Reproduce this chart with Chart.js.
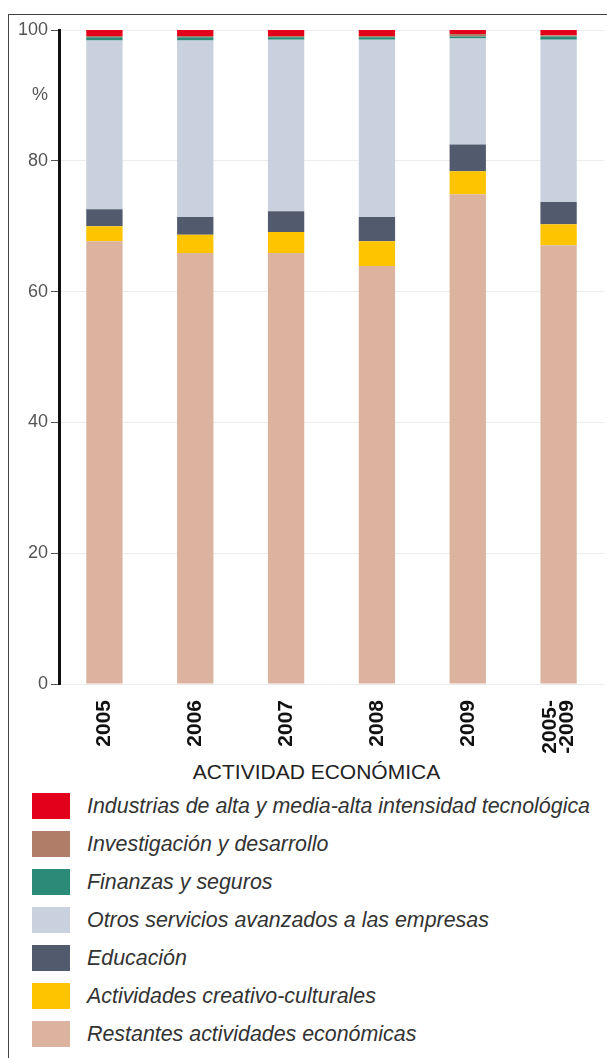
<!DOCTYPE html>
<html><head><meta charset="utf-8">
<script src="https://cdn.jsdelivr.net/npm/chart.js@4.4.1/dist/chart.umd.min.js"></script>
<style>
html,body{margin:0;padding:0;background:#fff;width:607px;height:1058px;overflow:hidden;font-family:"Liberation Sans",Arial,sans-serif;}
#frame{position:absolute;left:8px;top:14px;width:700px;height:1100px;border-left:1px solid #444;border-top:1px solid #444;}
#wrap{position:absolute;left:0;top:0;width:607px;height:760px;}
#xtitle{position:absolute;left:0;width:633px;top:761px;text-align:center;font-size:21px;line-height:21px;color:#222;}
#legend{position:absolute;left:32px;top:787px;}
.row{display:flex;align-items:center;height:38px;}
.box{width:38px;height:26px;margin-right:17px;flex:none;}
.lbl{font-style:italic;font-size:21.4px;line-height:21px;color:#333;white-space:nowrap;}
</style></head>
<body>
<div id="frame"></div>
<div id="wrap"><canvas id="c" width="607" height="760"></canvas></div>
<div id="xtitle">ACTIVIDAD ECONÓMICA</div>
<div id="legend"></div>
<script>
const categories = ['2005','2006','2007','2008','2009',['2005-','-2009']];
const restantes  = [67.7, 65.9, 65.9, 63.9, 74.9, 67.1];
const creativo   = [2.3, 2.8, 3.2, 3.8, 3.5, 3.2];
const educacion  = [2.6, 2.7, 3.2, 3.7, 4.1, 3.4];
const otros      = [25.8, 27.0, 26.2, 27.1, 16.2, 24.8];
const finanzas   = [0.5, 0.5, 0.4, 0.4, 0.3, 0.5];
const idi        = [0.2, 0.2, 0.2, 0.2, 0.4, 0.2];
const industrias = [0.9, 0.9, 0.9, 0.9, 0.6, 0.8];
const yTickStep = 20;
const yMin = 0, yMax = 100;

const seriesNames = [
  'Restantes actividades económicas',
  'Actividades creativo-culturales',
  'Educación',
  'Otros servicios avanzados a las empresas',
  'Finanzas y seguros',
  'Investigación y desarrollo',
  'Industrias de alta y media-alta intensidad tecnológica'
];
const seriesData = [restantes, creativo, educacion, otros, finanzas, idi, industrias];
const seriesColors = ['#dbb39f','#fec400','#525a6d','#c9d1df','#2b8a78','#b07d68','#e3001b'];

const pctPlugin = {
  id: 'pct',
  afterDraw(chart) {
    const y = chart.scales.y, ctx = chart.ctx;
    ctx.save();
    ctx.font = '18px "Liberation Sans", Arial, sans-serif';
    ctx.fillStyle = '#555';
    ctx.textAlign = 'right';
    ctx.textBaseline = 'middle';
    ctx.fillText('%', y.right - 11, y.getPixelForValue(90));
    ctx.restore();
  }
};

// half of the spacing between the two lines of a two-line tick label
const halfGap = 8.5;

const chart = new Chart(document.getElementById('c'), {
  type: 'bar',
  data: {
    labels: categories,
    datasets: seriesNames.map((n, i) => ({
      label: n, data: seriesData[i], backgroundColor: seriesColors[i],
      borderWidth: 0, barPercentage: 0.4, categoryPercentage: 1.0
    }))
  },
  options: {
    responsive: false,
    animation: false,
    layout: { padding: { top: 30, right: 3, left: 0, bottom: 0 } },
    plugins: { legend: { display: false }, tooltip: { enabled: false } },
    scales: {
      x: {
        stacked: true,
        grid: { display: false },
        border: { display: false },
        ticks: {
          autoSkip: false, maxRotation: 90, minRotation: 90, padding: 8,
          labelOffset: -halfGap,
          callback(value, index) {
            const l = categories[index];
            // centre single and two-line labels on the tick
            return Array.isArray(l) ? [l[0], '', l[1]] : ['', l];
          },
          color: '#111',
          font: { family: '"Liberation Sans", Arial, sans-serif', size: 21, weight: 'bold', lineHeight: halfGap / 21 }
        },
        afterFit(s) { s.height = 76; s.paddingLeft = 0; s.paddingRight = 0; }
      },
      y: {
        stacked: true, min: yMin, max: yMax,
        grid: { color: '#ececec', lineWidth: 1, drawTicks: true, tickLength: 8, tickColor: '#555', tickWidth: 1 },
        border: { display: true, color: '#111', width: 3 },
        ticks: {
          stepSize: yTickStep, padding: 3, color: '#555',
          font: { family: '"Liberation Sans", Arial, sans-serif', size: 18 }
        },
        afterFit(s) { s.width = 59; }
      }
    }
  },
  plugins: [pctPlugin]
});

const legend = document.getElementById('legend');
chart.data.datasets.slice().reverse().forEach(ds => {
  const row = document.createElement('div'); row.className = 'row';
  const box = document.createElement('div'); box.className = 'box'; box.style.background = ds.backgroundColor;
  const lbl = document.createElement('div'); lbl.className = 'lbl'; lbl.textContent = ds.label;
  row.appendChild(box); row.appendChild(lbl); legend.appendChild(row);
});
</script>
</body></html>
